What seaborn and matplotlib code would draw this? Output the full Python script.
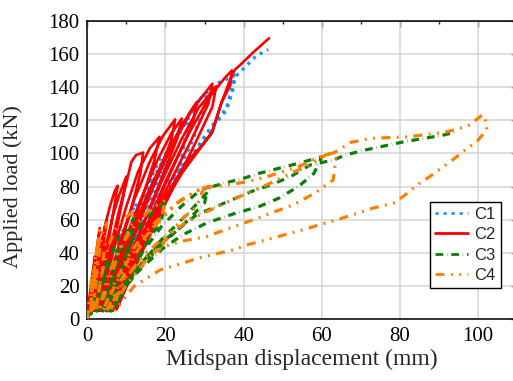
import matplotlib
matplotlib.use("Agg")
import matplotlib.pyplot as plt
from matplotlib.ticker import MultipleLocator
import pandas as pd
import seaborn as sns

# Cyclic load-displacement histories (mm, kN) for the four beams
c1_disp = [0, 1, 2, 3, 2.5, 1.8,
           2.8, 3.8, 5, 4.3, 3.2, 2.5,
           3.8, 5.3, 7, 8.5, 7.8, 6.2, 4.0, 3.8,
           5.2, 7, 9, 11, 12.5, 11.8, 9.8, 7.2, 4.5,
           6.2, 8.5, 11, 13.5, 16.5, 15.5, 12.8, 9.7, 6.5, 4.6,
           6.8, 9.5, 12.5, 14.8, 16.9, 18.5, 20.5, 19.5, 16.9, 13, 8.5, 5,
           7.5, 11, 14.8, 18, 21.5, 23.7, 26, 25, 23.3, 19, 13.5, 8.5, 5.5,
           8, 12, 16, 19.5, 23.7, 26.3, 29.3, 30.5, 29.5, 27, 23, 17, 11, 6,
           8.5, 13, 17, 21, 25, 29.3, 33, 37.8, 37.2, 35.6, 31.4, 28, 23.7, 18, 12, 6.5,
           10, 15, 19.5, 23.7, 28, 31.4, 35.6, 37.8, 40.8, 43.3, 46.3]
c1_load = [0, 8, 16, 25, 16, 5,
           16, 28, 40, 28, 14, 5,
           18, 34, 48, 56, 44, 26, 8, 5,
           18, 35, 52, 63, 70, 58, 40, 20, 5,
           18, 36, 54, 70, 86, 74, 54, 31.7, 12, 5.6,
           20, 40, 60, 76, 88, 96, 101, 90, 65, 42, 18, 5,
           20, 44, 70, 90, 104, 114, 120, 108, 87, 66, 40, 15, 5,
           20, 48, 74, 96, 114, 125, 134, 137, 126, 108, 88, 62, 32, 5,
           20, 50, 76, 100, 118, 134, 142, 147, 138, 126, 114, 102, 88, 64, 35, 5,
           28, 58, 80, 90, 103, 115, 127, 146, 153, 159, 162.5]

c2_disp = [0, 0.5, 1.2, 2.0, 1.6, 1.0, 0.6,
           1.3, 2.0, 2.6, 3.2, 2.8, 2.1, 1.2,
           2.2, 3.0, 4.0, 5.0, 4.3, 3.3, 1.6,
           2.5, 3.5, 4.5, 5.8, 7.0, 7.8, 7.2, 5.8, 4.2, 2.0,
           3.2, 4.8, 6.5, 8.2, 10, 9.2, 7.3, 5.2, 2.5,
           3.8, 5.8, 8.0, 10, 11.3, 12.5, 14.3, 13.6, 11.2, 8.2, 5.2, 3.0,
           4.5, 7, 10, 13, 16, 18.5, 17.2, 14.2, 10.4, 6.5, 3.5,
           5, 8, 12, 16, 19.5, 22.5, 21.5, 18, 13.2, 8.5, 4,
           5.8, 9.2, 14, 18, 21.5, 24.2, 23, 19.2, 14.2, 9.2, 5,
           6.8, 10.5, 15.5, 20.5, 24.5, 28, 27, 22.2, 16.5, 10.5, 5.5,
           7.5, 11.5, 17, 22, 27, 32, 31, 26.2, 20.4, 13.5, 6.5,
           8.5, 13, 19, 24, 28.5, 33, 32, 27.4, 21.5, 14.5, 7.5,
           9.5, 14.2, 20.2, 26, 31, 35, 37, 36.6, 34.4, 31.8, 29.2, 24.5, 18.2, 12.4, 8.2,
           14.5, 20.5, 25.5, 29.2, 32, 34.4, 36.8, 37.8, 39, 42.5, 46.5]
c2_load = [0, 12, 25, 38, 28, 15, 5,
           18, 32, 45, 55, 44, 27, 5,
           22, 38, 50, 60, 47, 30, 5,
           22, 42, 56, 68, 77, 80.5, 72, 52, 30, 5,
           22, 44, 62, 75, 86, 74, 52, 30, 5,
           20, 42, 64, 82, 95, 99, 100.5, 88, 66, 42, 20, 5,
           20, 44, 68, 89, 103, 110, 96, 74, 48, 22, 5,
           18, 44, 72, 95, 111, 120.5, 108, 86, 60, 32, 5,
           20, 45, 74, 96, 112, 121, 109, 86, 57, 28, 5,
           20, 46, 76, 101, 118, 131, 118, 93, 63, 33, 5,
           20, 47, 81, 106, 127, 142, 130, 106, 79, 46, 5,
           20, 49, 83, 108, 127.5, 140.5, 128, 105, 77, 43, 6,
           20, 50, 84, 112, 133, 145, 150, 141, 131, 112, 104, 89, 65, 38, 10,
           45, 76, 95, 104.5, 113, 131, 146, 150.5, 153, 161, 169.4]

c3_disp = [0, 0.8, 1.5, 1.2, 0.9,
           1.8, 2.5, 3.0, 2.6, 2.0,
           3.0, 4.0, 5.0, 4.5, 3.5, 2.5,
           3.6, 5.0, 6.5, 8.0, 7.5, 6.0, 4.0,
           5.2, 6.5, 9.0, 11.0, 12.0, 11.0, 9.0, 6.5, 5.0,
           8.0, 11.0, 14.0, 17.0, 20.0, 19.0, 15.0, 11.0, 8.0, 6.0,
           10.0, 14.0, 19.0, 24.0, 28.0, 31.0, 30.0, 25.0, 19.0, 14.0, 10.0, 7.0,
           12.0, 19.0, 25.0, 29.0, 32.0, 35.0, 40.0, 44.0, 49.0, 54.0, 60.0,
           58.0, 54.0, 49.0, 44.0, 38.0, 30.5, 24.5, 19.5, 14.4, 10.2, 7.0,
           11.0, 16.0, 22.0, 28.0, 37.0, 42.0, 47.0, 52.0, 57.0, 61.0, 63.0,
           66.0, 71.0, 76.0, 81.0, 86.0, 91.0, 94.5]
c3_load = [0, 6, 12, 7, 3,
           14, 20, 25, 15, 5,
           15, 26, 35, 25, 12, 5,
           18, 30, 41, 50, 38, 20, 5,
           18, 25, 45, 58, 61, 48, 30, 12, 5,
           25, 45, 58, 65, 70, 60, 45, 28, 12, 5,
           22, 40, 56, 68, 76, 80, 70, 58, 45, 32, 20, 8,
           28, 48, 62, 72, 80, 82, 85, 88, 91, 94, 98,
           88, 80, 73, 68, 64, 58, 51, 43, 32, 22, 10,
           25, 40, 52, 63, 72, 77, 81, 86, 93, 95, 96,
           99, 102, 104.5, 107, 109, 111, 113]

c4_disp = [0, 0.5, 1.0, 1.5, 1.2, 0.8,
           1.5, 2.0, 2.5, 2.1, 1.4, 1.0,
           1.8, 2.6, 3.2, 2.9, 2.2, 1.5,
           2.5, 3.5, 4.2, 5.0, 4.5, 3.5, 2.2,
           3.5, 5.5, 8.0, 12.0, 11.0, 8.0, 5.5, 3.0,
           5.0, 8.0, 12.0, 16.0, 20.0, 19.0, 15.0, 11.0, 7.0, 4.0,
           7.0, 11.0, 15.0, 20.0, 24.0, 30.0, 28.0, 24.0, 21.0, 16.0, 11.0, 7.0, 5.0,
           9.0, 13.0, 18.0, 23.0, 27.0, 30.0, 36.0, 41.0, 46.0, 50.0, 54.0, 58.5, 63.8,
           62.9, 58.2, 52.7, 49.3, 42.5, 33.9, 30.5, 24.0, 20.0, 14.4, 9.3, 6.5, 6.0,
           10.0, 15.0, 21.0, 28.0, 37.0, 45.0, 52.0, 55.0, 58.0, 61.0, 64.0, 67.2,
           72.3, 82.0, 92.0, 97.4, 101.1, 102.3, 102.1, 99.6, 97.0, 94.5, 90.2,
           87.6, 85.0, 80.8, 78.3, 73.1, 64.6, 59.5, 55.2, 46.0, 40.8, 37.3, 29.7,
           18.6, 12.0, 8.0, 7.0]
c4_load = [0, 12, 22, 30, 20, 5,
           22, 35, 45, 32, 12, 5,
           25, 42, 56, 42, 22, 5,
           28, 48, 55, 58, 44, 25, 5,
           25, 45, 58, 65.5, 55, 40, 22, 5,
           24, 42, 56, 66, 72, 62, 50, 38, 20, 5,
           22, 40, 53, 64, 72, 80, 68, 60, 50, 38, 24, 10, 5,
           25, 42, 58, 70, 76, 79.5, 81, 83, 86, 89, 92, 97, 101,
           84, 76, 69, 66, 60, 52.8, 49.8, 47, 44, 37, 24, 10, 5,
           26, 40, 52, 62, 72, 80, 88, 91, 94.5, 99, 101.5, 106.5,
           109, 110, 113, 116.5, 123.3, 118, 114, 107, 102.7, 98, 90.4,
           86, 82, 74, 70, 67, 60.5, 57, 54, 48, 44.8, 41.8, 37.7,
           29.7, 20, 8, 5]

specimens = ["C1", "C2", "C3", "C4"]
series_disp = [c1_disp, c2_disp, c3_disp, c4_disp]
series_load = [c1_load, c2_load, c3_load, c4_load]

frames = []
for name, xs, ys in zip(specimens, series_disp, series_load):
    frames.append(pd.DataFrame({"disp": xs, "load": ys, "specimen": name,
                                "step": range(len(xs))}))
df = pd.concat(frames, ignore_index=True)

sns.set_style("white")
plt.rcParams["font.family"] = ["Liberation Serif", "DejaVu Serif"]
plt.rcParams["lines.scale_dashes"] = False

palette = {"C1": "#1e8fff", "C2": "#ff0000", "C3": "#087f08", "C4": "#ff8000"}
dashes = {"C1": (2.2, 3.6), "C2": "", "C3": (5.5, 2.8, 0.25, 2.8),
          "C4": (6.5, 4.6, 1.4, 4.6, 1.4, 4.6)}
widths = {"C1": 2.4, "C2": 1.9, "C3": 2.3, "C4": 2.3}

fig = plt.figure(figsize=(5.13, 3.81), dpi=100)
ax = fig.add_axes([0.170, 0.162, 0.8384, 0.7837])

sns.lineplot(data=df, x="disp", y="load", hue="specimen", style="specimen",
             palette=palette, dashes=dashes, sort=False, estimator=None,
             linewidth=2.0, ax=ax, zorder=3)

for line, name in zip(ax.lines, specimens):
    line.set_linewidth(widths[name])

ax.set_xlim(0, 110)
ax.set_ylim(0, 180)
ax.xaxis.set_major_locator(MultipleLocator(20))
ax.xaxis.set_minor_locator(MultipleLocator(10))
ax.yaxis.set_major_locator(MultipleLocator(20))
ax.yaxis.set_minor_locator(MultipleLocator(10))
ax.grid(True, which="major", color="#d4d4d4", linewidth=1.1, zorder=0)
ax.set_axisbelow(True)

for sp in ax.spines.values():
    sp.set_linewidth(1.1)
    sp.set_color("black")

ax.tick_params(axis="both", which="major", direction="out", length=4, width=1.0,
               labelsize=15, pad=1.5, colors="black")
ax.tick_params(axis="both", which="minor", direction="out", length=2.2, width=1.0)

# Mirrored inward ticks on the top and right edges
top = ax.secondary_xaxis("top")
top.xaxis.set_major_locator(MultipleLocator(20))
top.xaxis.set_minor_locator(MultipleLocator(10))
top.tick_params(which="both", direction="in", labeltop=False)
top.tick_params(which="major", length=4, width=1.0)
top.tick_params(which="minor", length=2.2, width=1.0)
right = ax.secondary_yaxis("right")
right.yaxis.set_major_locator(MultipleLocator(20))
right.yaxis.set_minor_locator(MultipleLocator(10))
right.tick_params(which="both", direction="in", labelright=False)
right.tick_params(which="major", length=4, width=1.0)
right.tick_params(which="minor", length=2.2, width=1.0)

ax.set_xlabel("Midspan displacement (mm)", fontsize=17, labelpad=2)
ax.set_ylabel("Applied load (kN)", fontsize=16)
ax.yaxis.set_label_coords(-0.15, 0.445)

handles, labels = ax.get_legend_handles_labels()
leg = ax.legend(handles, labels, loc="upper left",
                bbox_to_anchor=(430 / 513, 1 - 202 / 381),
                bbox_transform=fig.transFigure, borderaxespad=0,
                frameon=True, fancybox=False, edgecolor="black",
                framealpha=1, handlelength=2.0, handletextpad=0.35,
                labelspacing=0.32, borderpad=0.3,
                prop={"family": "Liberation Sans", "size": 12})
leg.get_frame().set_linewidth(1.0)

fig.savefig("out.png", dpi=100)
